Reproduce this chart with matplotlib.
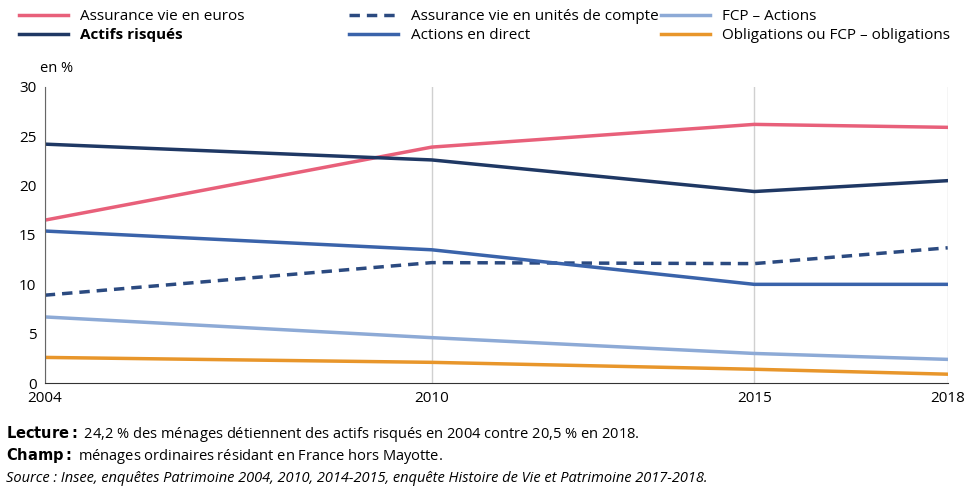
import matplotlib.pyplot as plt

years = [2004, 2010, 2015, 2018]
assurance_euros = [16.5, 23.9, 26.2, 25.9]
assurance_uc = [8.9, 12.2, 12.1, 13.7]
fcp_actions = [6.7, 4.6, 3.0, 2.4]
actifs_risques = [24.2, 22.6, 19.4, 20.5]
actions_direct = [15.4, 13.5, 10.0, 10.0]
obligations = [2.6, 2.1, 1.4, 0.9]

plt.rcParams["font.family"] = ["Open Sans", "DejaVu Sans"]
fig = plt.figure(figsize=(9.73, 4.88), dpi=100)
ax = fig.add_axes([0.046, 0.215, 0.928, 0.607])

l1 = ax.plot(years, assurance_euros, color="#e8607a", lw=2.5, label="Assurance vie en euros")
l2 = ax.plot(years, actifs_risques, color="#1f3864", lw=2.5, label="Actifs risqués")
l3 = ax.plot(years, assurance_uc, color="#2b4a80", lw=2.5, ls=(0, (3, 2)), label="Assurance vie en unités de compte")
l4 = ax.plot(years, actions_direct, color="#3a63aa", lw=2.5, label="Actions en direct")
l5 = ax.plot(years, fcp_actions, color="#8daad6", lw=2.5, label="FCP – Actions")
l6 = ax.plot(years, obligations, color="#e8962b", lw=2.5, label="Obligations ou FCP – obligations")

ax.set_xlim(2004, 2018)
ax.set_ylim(0, 30)
ax.set_xticks(years)
ax.set_yticks(range(0, 31, 5))
ax.grid(axis="x", color="#d0d0d0", lw=1)
for s in ["top", "right"]:
    ax.spines[s].set_visible(False)
ax.spines["left"].set_color("#666666")
ax.spines["bottom"].set_color("#333333")
ax.tick_params(labelsize=11, length=0, pad=6)
ax.text(-0.005, 1.05, "en %", transform=ax.transAxes, fontsize=10.5, ha="left")

columns = [(l1 + l2, 0.005), (l3 + l4, 0.345), (l5 + l6, 0.665)]
for handles, x in columns:
    leg = fig.legend(handles=handles, loc="upper left", bbox_to_anchor=(x, 1.01), frameon=False,
                     fontsize=11, handlelength=3.2, labelspacing=0.3)
    for t in leg.get_texts():
        if t.get_text() == "Actifs risqués":
            t.set_fontweight("bold")

fig.text(0.006, 0.102, r"$\bf{Lecture :}$ 24,2 % des ménages détiennent des actifs risqués en 2004 contre 20,5 % en 2018.", fontsize=10.5)
fig.text(0.006, 0.057, r"$\bf{Champ :}$ ménages ordinaires résidant en France hors Mayotte.", fontsize=10.5)
fig.text(0.006, 0.013, "Source : Insee, enquêtes Patrimoine 2004, 2010, 2014-2015, enquête Histoire de Vie et Patrimoine 2017-2018.",
         fontsize=10.5, style="italic")

fig.savefig("out.png", dpi=100)
